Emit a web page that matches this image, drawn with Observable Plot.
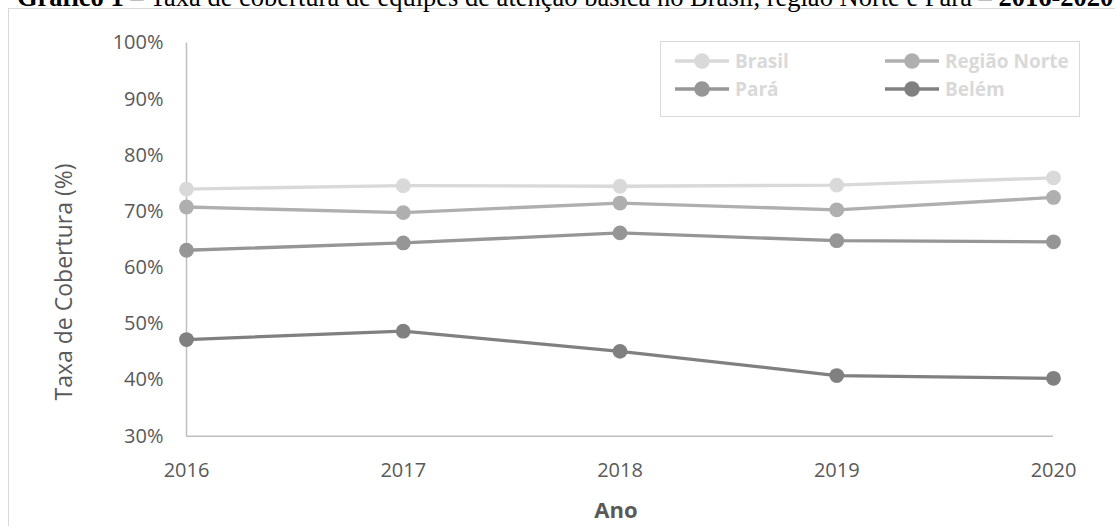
<!DOCTYPE html>
<html>
<head>
<meta charset="utf-8">
<script src="https://cdn.jsdelivr.net/npm/d3@7"></script>
<script src="https://cdn.jsdelivr.net/npm/@observablehq/plot@0.6"></script>
<style>
  html, body { margin: 0; padding: 0; background: #fff; overflow: hidden; }
  #wrap { position: relative; width: 1115px; height: 526px; overflow: hidden; }
  #wrap > svg { position: absolute; left: 0; top: 0; }
  #frame { position: absolute; left: 8px; top: 8px; width: 1300px; height: 800px;
           border: 1.5px solid #d9d9d9; pointer-events: none; }
  #title { position: absolute; left: 17px; top: -16.5px; white-space: nowrap;
           font-family: "Liberation Serif", serif; font-size: 26.5px; line-height: 26.5px; color: #000; }
  #legend { position: absolute; left: 660px; top: 41px; width: 420px; height: 76px;
            border: 1.5px solid #d9d9d9; box-sizing: border-box; }
  .entry { position: absolute; display: flex; align-items: center; height: 24px;
           font-family: "Open Sans", sans-serif; font-weight: bold; font-size: 19px; color: #d9d9d9; }
  .entry svg { margin-right: 6px; display: block; }
</style>
</head>
<body>
<div id="wrap"></div>
<script>
// ---- data ----
const years = [2016, 2017, 2018, 2019, 2020];
const seriesNames = ["Brasil", "Região Norte", "Pará", "Belém"];
const seriesColors = ["#d9d9d9", "#afafaf", "#969696", "#808080"];
const brasil = [74.0, 74.6, 74.5, 74.7, 76.0];
const regiaoNorte = [70.8, 69.8, 71.5, 70.3, 72.5];
const para = [63.1, 64.4, 66.2, 64.8, 64.6];
const belem = [47.2, 48.7, 45.1, 40.8, 40.3];
const yTicks = [30, 40, 50, 60, 70, 80, 90, 100];
const titleBold1 = "Gráfico 1";
const titleMain = " – Taxa de cobertura de equipes de atenção básica no Brasil, região Norte e Pará – ";
const titleBold2 = "2016-2020";
const yLabel = "Taxa de Cobertura (%)";
const xLabel = "Ano";

const seriesValues = [brasil, regiaoNorte, para, belem];
const rows = [];
seriesNames.forEach((name, si) => {
  years.forEach((yr, i) => rows.push({series: name, year: yr, value: seriesValues[si][i]}));
});

const W = 1115, H = 526, mL = 186, mR = 62, mT = 42.5, mB = 90.3;

const chart = Plot.plot({
  width: W,
  height: H,
  marginLeft: mL,
  marginRight: mR,
  marginTop: mT,
  marginBottom: mB,
  style: {fontFamily: "'Open Sans', sans-serif", fontSize: "20px", color: "#595959", background: "transparent", overflow: "visible"},
  x: {type: "linear", domain: [2016, 2020]},
  y: {domain: [30, 100]},
  color: {domain: seriesNames, range: seriesColors},
  marks: [
    Plot.axisY({ticks: yTicks, tickFormat: d => d + "%", tickSize: 0, tickPadding: 23, label: null, fill: "#595959"}),
    Plot.axisX({ticks: years, tickFormat: d => String(d), tickSize: 0, tickPadding: 27, label: null, fill: "#595959"}),
    Plot.ruleX([2016], {stroke: "#bfbfbf", strokeWidth: 1.5}),
    Plot.ruleY([30], {stroke: "#bfbfbf", strokeWidth: 1.5}),
    Plot.line(rows, {x: "year", y: "value", z: "series", stroke: "series", strokeWidth: 3.3}),
    Plot.dot(rows, {x: "year", y: "value", fill: "series", r: 7.4})
  ]
});

const wrap = document.getElementById("wrap");
wrap.appendChild(chart);

// axis titles
const svg = d3.select(chart);
svg.append("text")
  .attr("transform", "translate(64,282) rotate(-90)")
  .attr("text-anchor", "middle").attr("dy", "0.35em")
  .attr("font-family", "'Open Sans', sans-serif").attr("font-size", 23).attr("fill", "#595959")
  .text(yLabel);
svg.append("text")
  .attr("x", 616).attr("y", 510)
  .attr("text-anchor", "middle").attr("dy", "0.35em")
  .attr("font-family", "'Open Sans', sans-serif").attr("font-size", 22).attr("font-weight", "bold").attr("fill", "#595959")
  .text(xLabel);

const frame = document.createElement("div");
frame.id = "frame";
wrap.appendChild(frame);

const title = document.createElement("div");
title.id = "title";
const b1 = document.createElement("b"); b1.textContent = titleBold1;
const m = document.createElement("span"); m.textContent = titleMain;
const b2 = document.createElement("b"); b2.textContent = titleBold2;
title.append(b1, m, b2);
wrap.appendChild(title);

// legend
const legend = document.createElement("div");
legend.id = "legend";
const entryPos = [[14, 7], [224, 7], [14, 35], [224, 35]];
seriesNames.forEach((name, i) => {
  const e = document.createElement("div");
  e.className = "entry";
  e.style.left = entryPos[i][0] + "px";
  e.style.top = entryPos[i][1] + "px";
  const ns = "http://www.w3.org/2000/svg";
  const s = document.createElementNS(ns, "svg");
  s.setAttribute("width", 54); s.setAttribute("height", 18);
  const ln = document.createElementNS(ns, "line");
  ln.setAttribute("x1", 0); ln.setAttribute("x2", 54); ln.setAttribute("y1", 9); ln.setAttribute("y2", 9);
  ln.setAttribute("stroke", seriesColors[i]); ln.setAttribute("stroke-width", 3.3);
  const c = document.createElementNS(ns, "circle");
  c.setAttribute("cx", 27); c.setAttribute("cy", 9); c.setAttribute("r", 7.8);
  c.setAttribute("fill", seriesColors[i]);
  s.append(ln, c);
  const t = document.createElement("span");
  t.textContent = name;
  e.append(s, t);
  legend.appendChild(e);
});
wrap.appendChild(legend);
</script>
</body>
</html>
